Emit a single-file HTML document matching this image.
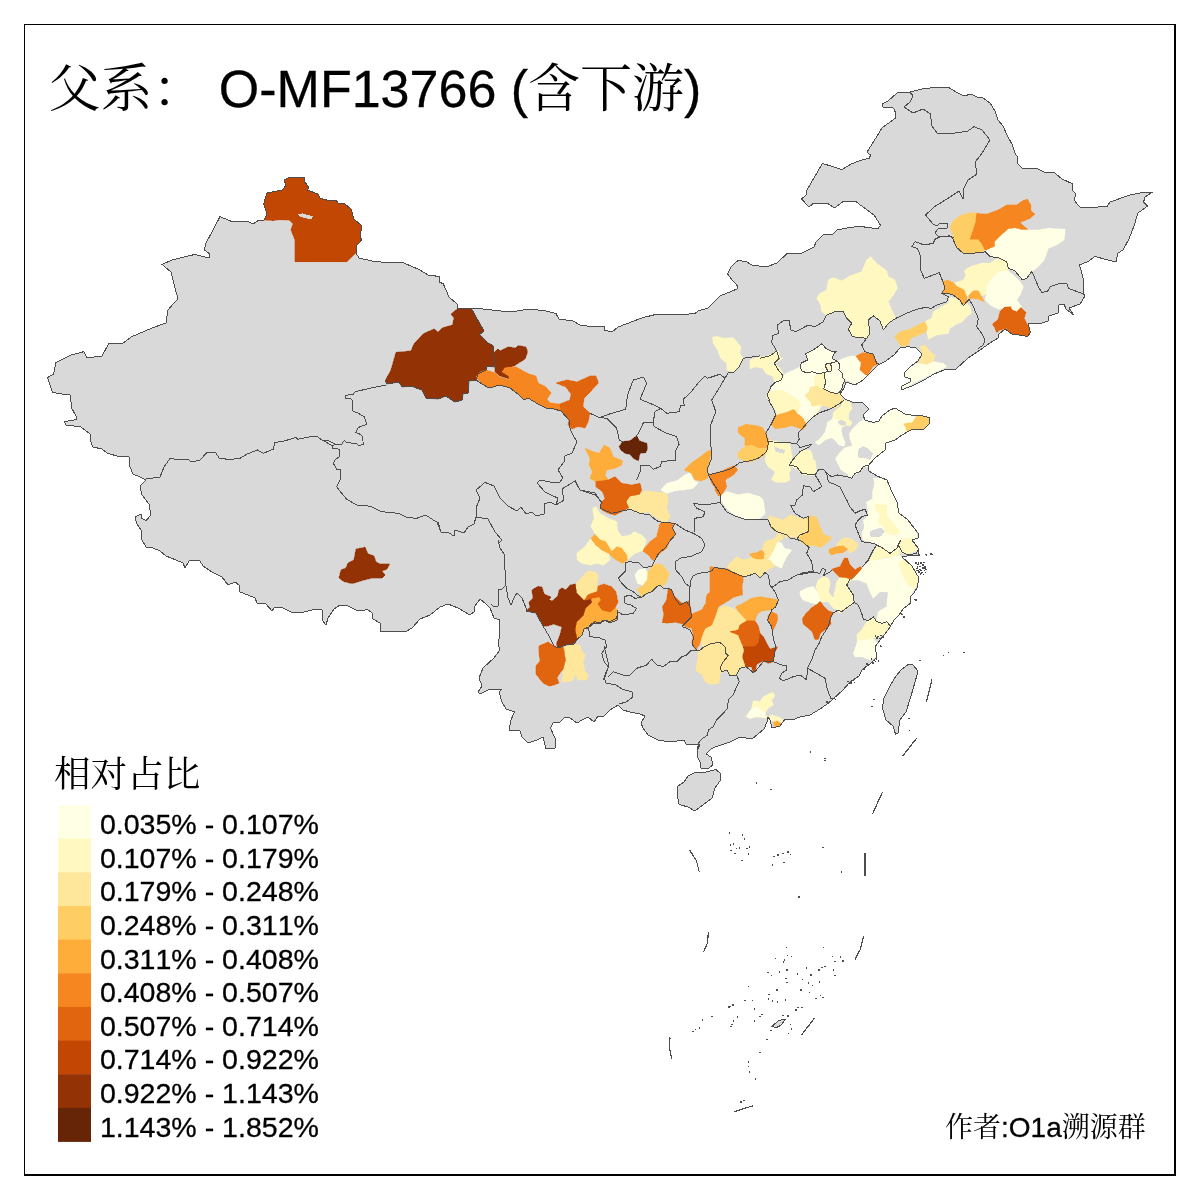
<!DOCTYPE html>
<html lang="zh-CN"><head><meta charset="utf-8"><title>父系 O-MF13766</title>
<style>
html,body{margin:0;padding:0;background:#fff}
body{width:1200px;height:1200px;position:relative;overflow:hidden}
svg{position:absolute;left:0;top:0;display:block}
text{font-family:"Liberation Sans","Noto Serif CJK SC",serif;fill:#000;white-space:pre;font-kerning:none;font-variant-ligatures:none}
.la{stroke:#000;stroke-width:0.3px}
.title{font-size:52px}
.lgt{font-size:36.6px}
.lt{font-size:28.55px}
.credit{font-size:28px}
</style></head><body>
<svg width="1200" height="1200" viewBox="0 0 1200 1200">
<path shape-rendering="crispEdges" d="M24,24H1176V1176H24ZM25,25V1174H1174V25Z" fill="#000" fill-rule="evenodd"/>
<g shape-rendering="crispEdges">
<path d="M152,328 166,323 168,310 173,304 178,299 174,284 171,272 162,264.4 172,260 195,254.4 209,258 210,254 204.4,250 206,243 213,230 220,216.6 233,222 247,221 253,224 258,220.6 264,220 267,214 263.6,204 267,193 282,190 285.6,186 284.4,180 290,177 304,177 305,182 309,188 307,190 318,194 320,198 330,201 336,200 338,203 345,204 351,209 354,219 362,226 360,236 361.6,240 356,246 356,253 359,258 372,261 384,262.4 404,263 420,270 428,275 440,276.6 439.4,282 443.4,284 449,297 457,304 458,308.4 471,308 478,308.4 510,312 530,309 546,311 556,313.6 559,319 573,321 580,325 590,326.4 604,326.4 605,330.4 612,332 618,327 643,317.6 656,314.4 676,315 695,313.6 698,311 708,308 720,296 737,289 737.6,286 732,280 727.6,274 731,267 738,260.4 746,261.6 752,265 766,267 777,263 787,253.6 800,254 814,247 816,242 823,235 833,234 837,230 849,227.6 860,226.4 869,227.6 878,229 880.4,225 874,215 863,207 855,201 844,201 834.4,208 827,203 813,203.6 809,207 801.6,199 806,195 807,190 822.4,163.4 842,169.6 851,164 860,160.6 869.6,158 870.4,155 867,152 874,141 882,128 895.4,118 896,113.6 893.4,108 883,107 882.4,103.6 888,101 897,93 910,92 924,88.6 940,87 948,87 956,92 963,95.6 972,94.4 977,97 983,98 990,103 995,111 998,120 1003,126 1007,135 1012.4,145 1015,153 1018,158 1017,163 1022,168 1038,169 1046,173 1054,172.4 1062,179 1073,184 1072,190 1076,194 1074,200 1079.6,207 1090,207.6 1107,206.4 1110,202 1130,195 1143,192.4 1152.4,192 1145,197 1143.6,202 1147.6,206 1138,213 1134,226 1129,239 1123,250 1118,253 1116,262 1104,259 1095,256.4 1089,261 1079.6,265 1083,278 1084,289 1083,294 1085,296 1080,304 1069,308 1073.6,315 1066,309 1064,304 1059,305 1058,313 1049,316 1048,321 1042,323 1028,323.6 1030.4,332 1028,336.4 1012,334 1005,329 999,334 998,338 990,343 980,350 968,358 956,369 944,370 934,374 924,380 912,386 902,389.6 901.6,386.4 910,382 911,379 905,377 904,373 910,367 918,361 922,354 916,348 908,346.6 900,348 894,355 886,361 878,365 868,375 863,380 855,385 846,382 844,388 840,394 845,399 852,402 863,403 869,409 863,415 865,420 873,422.4 879,421 882,416 890,410 895,408 905,414 914,415.6 920,415 930,418 929,424 924,429 911,430 902,435 895,440 886,443 885,450 875,458 868,466 869,471 877,476 887,480 892,492 897,502 899,513 908,520 914,528 918,533 918,538 912,540 918,548 918,553 920,556 912,555 902,557 912,566 916,573 919,578 917,588 914,593 910,597 911,603 903,609 899,615 894,620 890,627 885,634 880,640 875,647 877,657 870,664 862,670 859,676 850,682 843,690 833,699 830,702 820,709 810,715 800,717 792,720 785,719 780,726 772,728 770,720 768,717 767,722 764,729 758,734 752,739 744,737.6 738,738 730,742 724,744 715,747 711,749 706,754 711,757 713,765 709,768 701,768 700,762 697,756 698,749 700,744 686,744 684,740 670,742 658,740 648,735 643,728 641,723 645,716 640,714 630,712 623,710 618,705 610,710 604,716 598,716 594,722 588,717 582,720 577,723 570,718 565,717 560,722 553,723 550.4,728 555,738 555,748 546,749 543,737 537,740 528,743 522,737 520,731 509,730 511,720 514.4,712 506,709 502,702 499,692 502,689 488,690 480,694 478,692 482,686 479,678 483,668 494,658 500,650 498,644 499.6,636 499.4,620 494,618 490,608 486,604 480,599 475,606 474,612 470,615 458,608 448,604 440,607 430,615 420,619 412,628 406,631.6 392,631.6 381,632 380,623 373,619 372,613 367,609 363,611 356,610 348,606 340,605 334,609 328,618 326,625 322,620 322,610 316,609 304,612 292,612.4 282,607.6 275,607 272,611 266,604 257,603 255,598 248,595 240,592 239,585 235,582 228,585 222,577 212,572 203,566 200,561 193,560 189,561 185,568 183,563 176,560 166,556 160,551 153,548 146,547 141,538 141,530 137,524 135,517 141,514 141,518 146,520.6 151,515 149,504 142,495 140,486 146,480 140,477 133,474 129.6,466 129,457 118,456.4 107,453 102,449 93,447 90,440 90,434 81,427 66,425 64.6,421.6 76,419.6 76,416 71.6,408 70.4,395 58,393.6 52.4,392 47.6,377.6 53.6,374 56,362.4 71,355 84,351.6 87,358 102,356 109,343 122,344 131,337ZM909,664 913,665 918,671 915.6,680 911,696 906,712 900,720 898,733 895.6,734.4 893,726 886,720 882.4,708 884,698 890,686 896,676 902,669ZM688,776 696,772 706,772 716,769.6 721,774 720.6,780 715,788 712,798 703,805 695,811 688,807 679,804.4 677,794 678,786 684,782ZM772.001,1026.4 778.601,1020.4 785.501,1019.2 781.001,1025.2 776.501,1027.6Z" fill="#D9D9D9" stroke="none"/>
<clipPath id="landclip"><path d="M152,328 166,323 168,310 173,304 178,299 174,284 171,272 162,264.4 172,260 195,254.4 209,258 210,254 204.4,250 206,243 213,230 220,216.6 233,222 247,221 253,224 258,220.6 264,220 267,214 263.6,204 267,193 282,190 285.6,186 284.4,180 290,177 304,177 305,182 309,188 307,190 318,194 320,198 330,201 336,200 338,203 345,204 351,209 354,219 362,226 360,236 361.6,240 356,246 356,253 359,258 372,261 384,262.4 404,263 420,270 428,275 440,276.6 439.4,282 443.4,284 449,297 457,304 458,308.4 471,308 478,308.4 510,312 530,309 546,311 556,313.6 559,319 573,321 580,325 590,326.4 604,326.4 605,330.4 612,332 618,327 643,317.6 656,314.4 676,315 695,313.6 698,311 708,308 720,296 737,289 737.6,286 732,280 727.6,274 731,267 738,260.4 746,261.6 752,265 766,267 777,263 787,253.6 800,254 814,247 816,242 823,235 833,234 837,230 849,227.6 860,226.4 869,227.6 878,229 880.4,225 874,215 863,207 855,201 844,201 834.4,208 827,203 813,203.6 809,207 801.6,199 806,195 807,190 822.4,163.4 842,169.6 851,164 860,160.6 869.6,158 870.4,155 867,152 874,141 882,128 895.4,118 896,113.6 893.4,108 883,107 882.4,103.6 888,101 897,93 910,92 924,88.6 940,87 948,87 956,92 963,95.6 972,94.4 977,97 983,98 990,103 995,111 998,120 1003,126 1007,135 1012.4,145 1015,153 1018,158 1017,163 1022,168 1038,169 1046,173 1054,172.4 1062,179 1073,184 1072,190 1076,194 1074,200 1079.6,207 1090,207.6 1107,206.4 1110,202 1130,195 1143,192.4 1152.4,192 1145,197 1143.6,202 1147.6,206 1138,213 1134,226 1129,239 1123,250 1118,253 1116,262 1104,259 1095,256.4 1089,261 1079.6,265 1083,278 1084,289 1083,294 1085,296 1080,304 1069,308 1073.6,315 1066,309 1064,304 1059,305 1058,313 1049,316 1048,321 1042,323 1028,323.6 1030.4,332 1028,336.4 1012,334 1005,329 999,334 998,338 990,343 980,350 968,358 956,369 944,370 934,374 924,380 912,386 902,389.6 901.6,386.4 910,382 911,379 905,377 904,373 910,367 918,361 922,354 916,348 908,346.6 900,348 894,355 886,361 878,365 868,375 863,380 855,385 846,382 844,388 840,394 845,399 852,402 863,403 869,409 863,415 865,420 873,422.4 879,421 882,416 890,410 895,408 905,414 914,415.6 920,415 930,418 929,424 924,429 911,430 902,435 895,440 886,443 885,450 875,458 868,466 869,471 877,476 887,480 892,492 897,502 899,513 908,520 914,528 918,533 918,538 912,540 918,548 918,553 920,556 912,555 902,557 912,566 916,573 919,578 917,588 914,593 910,597 911,603 903,609 899,615 894,620 890,627 885,634 880,640 875,647 877,657 870,664 862,670 859,676 850,682 843,690 833,699 830,702 820,709 810,715 800,717 792,720 785,719 780,726 772,728 770,720 768,717 767,722 764,729 758,734 752,739 744,737.6 738,738 730,742 724,744 715,747 711,749 706,754 711,757 713,765 709,768 701,768 700,762 697,756 698,749 700,744 686,744 684,740 670,742 658,740 648,735 643,728 641,723 645,716 640,714 630,712 623,710 618,705 610,710 604,716 598,716 594,722 588,717 582,720 577,723 570,718 565,717 560,722 553,723 550.4,728 555,738 555,748 546,749 543,737 537,740 528,743 522,737 520,731 509,730 511,720 514.4,712 506,709 502,702 499,692 502,689 488,690 480,694 478,692 482,686 479,678 483,668 494,658 500,650 498,644 499.6,636 499.4,620 494,618 490,608 486,604 480,599 475,606 474,612 470,615 458,608 448,604 440,607 430,615 420,619 412,628 406,631.6 392,631.6 381,632 380,623 373,619 372,613 367,609 363,611 356,610 348,606 340,605 334,609 328,618 326,625 322,620 322,610 316,609 304,612 292,612.4 282,607.6 275,607 272,611 266,604 257,603 255,598 248,595 240,592 239,585 235,582 228,585 222,577 212,572 203,566 200,561 193,560 189,561 185,568 183,563 176,560 166,556 160,551 153,548 146,547 141,538 141,530 137,524 135,517 141,514 141,518 146,520.6 151,515 149,504 142,495 140,486 146,480 140,477 133,474 129.6,466 129,457 118,456.4 107,453 102,449 93,447 90,440 90,434 81,427 66,425 64.6,421.6 76,419.6 76,416 71.6,408 70.4,395 58,393.6 52.4,392 47.6,377.6 53.6,374 56,362.4 71,355 84,351.6 87,358 102,356 109,343 122,344 131,337ZM909,664 913,665 918,671 915.6,680 911,696 906,712 900,720 898,733 895.6,734.4 893,726 886,720 882.4,708 884,698 890,686 896,676 902,669ZM688,776 696,772 706,772 716,769.6 721,774 720.6,780 715,788 712,798 703,805 695,811 688,807 679,804.4 677,794 678,786 684,782ZM772.001,1026.4 778.601,1020.4 785.501,1019.2 781.001,1025.2 776.501,1027.6Z"/></clipPath>
<g clip-path="url(#landclip)">
<path d="M264,220 267,214 263.6,204 267,193 282,190 285.6,186 284.4,180 290,177 304,177 305,182 309,188 307,190 318,194 320,198 330,201 336,200 338,203 345,204 351,209 354,219 362,226 360,236 361.6,240 356,246 356,253 347,261.6 295,261.6 295,240 291,230 293,224 289,220 279,219.6 273,220.6Z" fill="#C14702" stroke="#C14702" stroke-width="0.6" stroke-linejoin="round"/>
<path d="M458,308.4 471,308 484,331 479.6,334.4 488,343 493,345.6 493.6,353 498,349 500,351 508,347 516,348 518,345.6 526,347 527.6,352 525,359 514,366 505,368 502,372 509,376 509.6,379 500,376 495,372 495,367 487,366 486,370 478,374 476,380 469,381 468,393 463,394 462,400 455,402 446,396 438,399 426,398 422,390 411,386 402,387 399,382 386.4,384 385.6,380 391,370 396,352.4 411,351 414,344 423,334 434,329 438,332 442,328 452.6,325 454,318 451,314Z" fill="#933204" stroke="#933204" stroke-width="0.6" stroke-linejoin="round"/>
<path d="M339,578 341,570 346,568 348,563 354,560 356,549 362,548 365,547 368,554 374,556 376,562 380,564 389.6,564 387,569 382,571 385,575 382,578 372,578 364,580 352,583.6 344,581.6Z" fill="#933204" stroke="#933204" stroke-width="0.6" stroke-linejoin="round"/>
<path d="M476,377 480,372 486,370 495,373 500,377 509,380 509,376 502,372 505,367.6 516,367 529,374 536,376 538,383 546,387 551,393 547,399 550,403 560,404 561,411 554,409 546,408 538,404 528,398 524,400 518,394 510,388 500,385 489,388 482,384Z" fill="#F68720" stroke="#F68720" stroke-width="0.6" stroke-linejoin="round"/>
<path d="M556,383 567,380 577,382 590,376 596,376 598.4,383 592,390 584,398 583,407 590,413 588,422 585,428 578,426.4 572,429 568,425 569,420 561,411 560,404 570,400 571,394 566,387Z" fill="#E1640E" stroke="#E1640E" stroke-width="0.6" stroke-linejoin="round"/>
<path d="M526,611 530,607 529,602 533,598 532,590 538,586.4 542,587 544,594 551,597 549,600 552,601 558,596 559,590 562,588 566,590 570,585 576,584 577,593 584,600 591,599 592,603 586,608 584,615 577,622 575.6,630 577.6,639 574,644 566,645 558,648 556.4,644 560,635 562,627 554,624 547,626 543,626 536,613Z" fill="#933204" stroke="#933204" stroke-width="0.6" stroke-linejoin="round"/>
<path d="M539,646 548,642 554,646 558,648 564,647 566,660 564,668 560,673 557,678 559,683 554,685 549,686 543,683 536,674 536,666 540,661 539,652Z" fill="#E1640E" stroke="#E1640E" stroke-width="0.6" stroke-linejoin="round"/>
<path d="M564,647 574,644 580,645 582,652 585,655 583,662 585,672 588,674 587,680 578,680 576,674 572,681 562,682 563,673 564,668 566,660Z" fill="#FEE79B" stroke="#FEE79B" stroke-width="0.6" stroke-linejoin="round"/>
<path d="M592,598 600,597 601,600 598,604 602,610 610,612 615,608 617.6,610 617,620 610,623 604,620 598,624 592,623 588,628 584,629 582,635 577.6,639 575.6,630 577,622 584,615 586,608 592,603Z" fill="#FEAC3A" stroke="#FEAC3A" stroke-width="0.6" stroke-linejoin="round"/>
<path d="M588,594 597,591 598,586 604,584 612,587 616,592 618,602 615,608 610,612 602,610 598,604 601,600 600,597 592,598 591,599 584,600Z" fill="#E1640E" stroke="#E1640E" stroke-width="0.6" stroke-linejoin="round"/>
<path d="M576,584 582,577 588,571 595,572 598,575 597,586 597,591 588,594 584,600 577,593Z" fill="#FEE79B" stroke="#FEE79B" stroke-width="0.6" stroke-linejoin="round"/>
<path d="M619.2,446.7 622.5,441.7 630,440.8 636.7,435.8 639.2,440.8 646.7,443.3 647.5,448.3 645.8,452.5 640,453.3 638.3,460.8 633.3,458.3 630,454.2 625,453.3 620.8,450Z" fill="#662506" stroke="#662506" stroke-width="0.6" stroke-linejoin="round"/>
<path d="M712.5,337.5 716.7,336.3 723.3,338.3 733.3,337.5 740.8,346.7 740,353.3 743.3,358.3 739.2,366.7 733.3,372.5 726.7,370 726.7,363.3 720.8,358.3 717.5,350 713.3,343.3Z" fill="#FFF8C1" stroke="#FFF8C1" stroke-width="0.6" stroke-linejoin="round"/>
<path d="M800,366.9 801.2,363.1 807.5,360 805.6,353.8 815,348.8 821.9,343.8 826.2,348.8 832.5,351.9 836.2,351.2 833.1,355 832.5,358.8 837.5,361.2 842.5,358.8 850,356.2 856.2,356.2 858.8,360 861.2,362.5 860,370 865,374.4 867.5,375 866.2,377.5 860,381.2 856.2,385 852.5,383.1 847.5,380 845,380 843.1,383.8 842.5,387.5 839.4,392.5 836.2,393.8 830,391.9 823.8,388.8 821.2,390 818.1,386.2 815,386.2 810,387.5 808.8,392.5 805,395 807.5,398.8 811.2,402.5 811.2,406.2 819.4,405 818.1,410 816.2,413.8 813.8,416.9 808.8,420 805.6,423.1 802.5,417.5 797.5,413.8 800,406.2 798.8,400 790,395 782.5,390 771.2,391.2 771.2,386.2 775,382.5 781.2,380 785,373.8 792.5,370.6Z" fill="#FFFFE5" stroke="#FFFFE5" stroke-width="0.6" stroke-linejoin="round"/>
<path d="M825,364.4 830.6,363.1 831.9,370.6 828.1,371.9Z" fill="#FFF8C1" stroke="#FFF8C1" stroke-width="0.6" stroke-linejoin="round"/>
<path d="M856.2,356.2 863.1,352.5 873.1,354.4 875,360.6 878.1,363.8 873.1,366.2 867.5,375 865,374.4 860,370 861.2,362.5 858.8,360Z" fill="#F68720" stroke="#F68720" stroke-width="0.6" stroke-linejoin="round"/>
<path d="M750,360 757.5,356.9 766.2,356.2 775,352.5 778.8,350.6 780,357.5 783.1,358.1 779.4,360.6 775,363.8 780,368.1 783.1,373.1 781.2,380 775,382.5 772.5,376.2 766.2,373.8 762.5,368.1 755,366.9 750,368.8Z" fill="#FFF8C1" stroke="#FFF8C1" stroke-width="0.6" stroke-linejoin="round"/>
<path d="M771.2,391.2 782.5,390 790,395 798.8,400 800,406.2 797.5,413.8 793.8,409.4 786.2,412.5 775,415.6 776.9,412.5 773.8,407.5 770,401.2 766.2,396.2 768.8,392.5Z" fill="#FFF8C1" stroke="#FFF8C1" stroke-width="0.6" stroke-linejoin="round"/>
<path d="M813.8,377.5 818.1,373.8 825,372.5 824.4,376.2 825.6,382.5 823.8,388.8 821.2,390 818.1,386.2 815,386.2 813.8,382.5Z" fill="#FFF8C1" stroke="#FFF8C1" stroke-width="0.6" stroke-linejoin="round"/>
<path d="M805,395 808.8,392.5 810,387.5 815,386.2 818.1,386.2 821.2,390 823.8,388.8 830,391.9 836.2,393.8 839.4,392.5 843.1,400 840,403.8 836.2,408.1 830,407.5 820,405 811.2,406.2 811.2,402.5 807.5,398.8Z" fill="#FEE79B" stroke="#FEE79B" stroke-width="0.6" stroke-linejoin="round"/>
<path d="M819.4,405 821.9,405.2 818.1,411.9 815,416.2 813.8,416.9 816.2,413.8 818.1,410Z" fill="#FFF8C1" stroke="#FFF8C1" stroke-width="0.6" stroke-linejoin="round"/>
<path d="M771.2,423.8 775,415.6 786.2,412.5 793.8,409.4 797.5,413.8 802.5,417.5 806.9,425 802.5,430 797.5,427.5 791.2,425.6 785,427.5 775,428.8Z" fill="#FEAC3A" stroke="#FEAC3A" stroke-width="0.6" stroke-linejoin="round"/>
<path d="M745,424.4 756.2,425.6 762.5,427.5 765,432.5 768.8,440 766.2,448.8 760,448.8 755,446.2 745,445.6Z" fill="#FEAC3A" stroke="#FEAC3A" stroke-width="0.6" stroke-linejoin="round"/>
<path d="M745,445.6 755,446.2 760,448.8 766.2,448.8 766.2,453.8 758.8,458.8 750,461.9 745,461.9Z" fill="#FECE65" stroke="#FECE65" stroke-width="0.6" stroke-linejoin="round"/>
<path d="M768.8,440 778.8,441.9 790,443.8 791.2,451.2 792.5,457.5 788.8,465 791.2,470 788.8,472.5 790,480 785,482.5 775,481.9 771.2,478.8 776.9,475 776.2,468.8 768.8,467.5 765,461.2 766.2,453.8 766.2,448.8Z" fill="#FFF8C1" stroke="#FFF8C1" stroke-width="0.6" stroke-linejoin="round"/>
<path d="M789.4,465 792.5,460 800,453.1 805,450.6 810,450 812.5,455 811.9,465 816.2,470 815,475 810,475.6 802.5,474.4 797.5,469.4 791.2,466.2Z" fill="#FFF8C1" stroke="#FFF8C1" stroke-width="0.6" stroke-linejoin="round"/>
<path d="M849.4,433.8 852.5,428.8 858.8,422.5 863.8,419.4 869.4,423.1 876.2,423.1 880,416.9 886.2,411.9 893.8,408.8 898.8,410 906.2,413.8 912.5,416.2 916.2,416.9 920,414.4 923.1,416.9 930.6,417.5 928.1,421.2 928.8,427.5 923.1,430.6 917.5,429.4 912.5,431.2 908.8,433.1 900,436.9 895,443.1 888.8,448.1 886.2,453.1 878.8,458.1 875,464.4 869.4,466.9 862.5,466.2 858.8,472.5 853.8,475 850,478.1 847.5,473.8 841.2,470 838.1,463.8 835.6,458.8 838.8,453.8 844.4,448.1 852.5,445.6 850,438.8Z" fill="#FFFFE5" stroke="#FFFFE5" stroke-width="0.6" stroke-linejoin="round"/>
<path d="M903.8,423.8 912.5,422.5 916.2,416.9 920,413.8 923.1,415.6 931.9,416.9 929.4,421.2 928.8,427.5 923.1,430.6 917.5,429.4 912.5,431.2 907.5,433.1 905.6,427.5Z" fill="#FECE65" stroke="#FECE65" stroke-width="0.6" stroke-linejoin="round"/>
<path d="M815,442.5 820,438.8 825,432.5 827.5,422.5 832.5,418.8 833.8,411.9 841.2,406.2 843.8,400 850,402.5 851.9,408.8 848.8,412.5 848.1,418.8 851.9,422.5 850,425.6 845,425 841.2,428.8 841.9,435 845,442.5 844.4,446.2 838.8,445 835,440 831.2,437.5 825,440 818.8,445Z" fill="#FFFFE5" stroke="#FFFFE5" stroke-width="0.6" stroke-linejoin="round"/>
<path d="M833.8,411.9 841.2,406.2 843.8,400 850,402.5 851.9,408.8 848.8,412.5 848.1,418.8 851.9,422.5 850,425.6 845,425 841.9,427.5 838.8,425 837.5,420 833.8,417.5Z" fill="#FFF8C1" stroke="#FFF8C1" stroke-width="0.6" stroke-linejoin="round"/>
<path d="M800,451.2 807.5,450 811.9,453.8 813.1,460 812.5,466.2 816.2,470 815.6,475 810,475 800,473.1Z" fill="#FFF8C1" stroke="#FFF8C1" stroke-width="0.6" stroke-linejoin="round"/>
<path d="M875,482.5 880,477.5 887.5,480 890,487.5 896.2,500 900,508.8 900,513.8 907.5,520 911.2,526.2 916.2,530 917.5,540 865,540 865,532.5 863.8,521.2 868.1,515 868.8,510 866.2,502.5 872.5,498.8 873.1,490Z" fill="#FFFFE5" stroke="#FFFFE5" stroke-width="0.6" stroke-linejoin="round"/>
<path d="M875,505 880,503.8 886.2,505 886.9,510 885,515 887.5,522.5 890,527.5 887.5,531.2 882.5,528.8 878.8,522.5 878.8,515 876.2,510Z" fill="#FFF8C1" stroke="#FFF8C1" stroke-width="0.6" stroke-linejoin="round"/>
<path d="M950,227.5 953.3,220.8 960,215.8 970,212.5 976.7,213.3 975.8,221.7 973.3,230 971.7,236.7 978.3,239.2 981.7,243.3 985,250 981.7,252.5 971.7,253.3 963.3,253.3 956.7,247.5 953.3,240 952.5,233.3Z" fill="#FECE65" stroke="#FECE65" stroke-width="0.6" stroke-linejoin="round"/>
<path d="M976.7,213.3 986.7,214.2 998.3,210 1006.7,205 1016.7,205 1022.5,200.8 1027.5,199.2 1030.8,205 1030.8,210.8 1035,214.2 1030,218.3 1020,222.5 1028.3,230 1021.7,230 1015,228.3 1008.3,229.2 1001.7,235 995,241.7 995,246.7 990.8,248.3 985,250 981.7,243.3 978.3,239.2 970,239.2 973.3,230 975.8,221.7Z" fill="#F68720" stroke="#F68720" stroke-width="0.6" stroke-linejoin="round"/>
<path d="M985,251.7 990.8,248.3 995,246.7 995,241.7 1001.7,235 1008.3,229.2 1015,228.3 1021.7,230 1028.3,230 1038.3,230 1048.3,228.3 1065,229.2 1064.2,240 1056.7,245 1048.3,248.3 1044.2,260 1038.3,266.7 1031.7,271.7 1026.7,278.3 1022.5,280 1018.3,275 1015,270.8 1008.3,268.3 1006.7,261.7 998.3,257.5 990,256.7Z" fill="#FFFFE5" stroke="#FFFFE5" stroke-width="0.6" stroke-linejoin="round"/>
<path d="M964.2,270.8 970,266.7 981.7,263.3 990,263.3 995.8,259.2 1003.3,259.2 1007.5,263.3 1008.3,270.8 998.3,271.7 990.8,280 986.7,285 986.7,293.3 981.7,296.7 976.7,290 971.7,291.7 966.7,296.7 964.2,290 957.5,286.7 954.2,283.3 963.3,280 965.8,275Z" fill="#FFF8C1" stroke="#FFF8C1" stroke-width="0.6" stroke-linejoin="round"/>
<path d="M986.7,285 990.8,280 998.3,271.7 1008.3,270.8 1015,276.7 1020,281.7 1023.3,286.7 1020,295 1016.7,300 1021.7,306.7 1016.7,311.7 1011.7,308.3 1006.7,306.7 998.3,309.2 990,305 985,300 986.7,293.3Z" fill="#FFFFE5" stroke="#FFFFE5" stroke-width="0.6" stroke-linejoin="round"/>
<path d="M942.5,281.7 947.5,280 954.2,283.3 957.5,286.7 964.2,290 966.7,296.7 966.7,301.7 963.3,305.8 960,300 953.3,295 948.3,293.3 941.7,293.3 945,288.3Z" fill="#FEAC3A" stroke="#FEAC3A" stroke-width="0.6" stroke-linejoin="round"/>
<path d="M969.2,295 973.3,290.8 978.3,290.8 981.7,296.7 984.2,301.7 978.3,299.2 973.3,298.3 969.2,299.2Z" fill="#FEAC3A" stroke="#FEAC3A" stroke-width="0.6" stroke-linejoin="round"/>
<path d="M992.5,324.2 998.3,319.2 1000,311.7 1004.2,307.5 1010.8,306.7 1011.7,310 1016.7,311.7 1020.8,307.5 1025.8,312.5 1024.2,318.3 1026.7,323.3 1030.8,332.5 1028.3,335.8 1016.7,335 1010,333.3 1006.7,328.3 1000,330 996.7,332.5 995,328.3Z" fill="#E1640E" stroke="#E1640E" stroke-width="0.6" stroke-linejoin="round"/>
<path d="M950,296.7 958.3,300 961.7,305.8 966.7,303.3 970,306.7 971.7,313.3 966.7,316.7 962.5,321.7 955,325 950,328.3 948.3,333.3 936.7,335 928.3,339.2 926.7,330 925,321.7 931.7,318.3 933.3,311.7 941.7,306.7 948.3,303.3Z" fill="#FFF8C1" stroke="#FFF8C1" stroke-width="0.6" stroke-linejoin="round"/>
<path d="M895,336.7 900,331.7 910,329.2 918.3,325 925,321.7 927.5,328 925,332.5 916.7,335.8 910.8,338 908,345 901.7,346.7 898,341.7Z" fill="#FECE65" stroke="#FECE65" stroke-width="0.6" stroke-linejoin="round"/>
<path d="M920,346.7 925,345 930,351.7 935,355 933.3,361.7 926.7,365 918.3,363.3 921.7,356.7 922.5,353.3Z" fill="#FEE79B" stroke="#FEE79B" stroke-width="0.6" stroke-linejoin="round"/>
<path d="M918.3,363.3 926.7,365 933.3,361.7 943.3,363.3 946.7,366.7 936.7,371.7 925,377.5 913.3,383.3 903.3,390 901.7,386.7 910,382.5 910.8,379.2 905.8,378.3 904.2,373.3 910,366.7Z" fill="#FFFFE5" stroke="#FFFFE5" stroke-width="0.6" stroke-linejoin="round"/>
<path d="M816.7,298.3 820,293.3 826.7,290 828.3,280 833.3,277.5 841.7,280.8 850,275.8 861.7,271.7 866.7,260 870.8,256.7 876.7,263.3 886.7,270.8 888.3,276.7 895,280 897.5,288.3 893.3,295 888.3,301.7 891.7,310 895.8,318.3 888.3,323.3 883.3,330 880,320.8 873.3,315.8 868.3,320 870,333.3 866.7,338.3 852.5,336.7 848.3,329.2 851.7,323.3 846.7,318.3 843.3,311.7 835,311.7 826.7,315 821.7,311.7 820.8,305Z" fill="#FFF8C1" stroke="#FFF8C1" stroke-width="0.6" stroke-linejoin="round"/>
<path d="M585,448.3 593.3,451.7 599.2,453.3 604.2,445 610,448.3 613.3,456.7 622.5,460.8 621.7,465 615,468.3 606.7,470 605,475 608.3,480 595.8,481.7 590,478.3 592.5,471.7 589.2,465 590,458.3Z" fill="#FEAC3A" stroke="#FEAC3A" stroke-width="0.6" stroke-linejoin="round"/>
<path d="M595.8,481.7 608.3,480 615,476.7 621.7,483.3 631.7,485 640,483.3 641.7,490 639.2,495 630,496.7 626.7,501.7 629.2,507.5 621.7,511.7 615,515 608.3,513.3 601.7,510 600.8,503.3 605,498.3 602.5,491.7 595.8,486.7Z" fill="#E1640E" stroke="#E1640E" stroke-width="0.6" stroke-linejoin="round"/>
<path d="M626.7,501.7 630,496.7 639.2,495 645,490.8 653.3,491.7 666.7,493.3 668.3,500 666.7,508.3 670,516.7 666.7,522.5 660,520 651.7,515 648.3,511.7 640,513.3 633.3,511.7 629.2,507.5Z" fill="#FEE79B" stroke="#FEE79B" stroke-width="0.6" stroke-linejoin="round"/>
<path d="M660.8,490 666.7,483.3 676.7,480.8 685,475 690,472.5 693.3,480 698.3,482.5 693.3,488.3 683.3,490 675,490.8 666.7,493.3Z" fill="#FFFFE5" stroke="#FFFFE5" stroke-width="0.6" stroke-linejoin="round"/>
<path d="M684.2,470 691.7,462.5 698.3,458.3 706.7,451.7 711.7,450 710,458.3 707.5,468.3 707.5,478.3 701.7,480.8 695,480 691.7,473.3Z" fill="#FEAC3A" stroke="#FEAC3A" stroke-width="0.6" stroke-linejoin="round"/>
<path d="M708.3,475 720,471.7 733.3,465.8 737.5,470 733.3,475 725,480 726.7,486.7 721.7,495 716.7,490 711.7,483.3Z" fill="#F68720" stroke="#F68720" stroke-width="0.6" stroke-linejoin="round"/>
<path d="M721.7,495 726.7,491.7 738.3,495 748.3,493.3 760,496.7 763.3,500 765,513.3 760,518.3 751.7,520 743.3,518.3 735,515 728.3,510 723.3,503.3Z" fill="#FFFFE5" stroke="#FFFFE5" stroke-width="0.6" stroke-linejoin="round"/>
<path d="M738.3,427.5 746.7,424.2 755,427.5 763.3,429.2 765.8,433.3 768.3,443.3 767.5,448.3 758.3,448.3 751.7,445 746.7,439.2 741.7,435.8 738.3,432.5Z" fill="#FEAC3A" stroke="#FEAC3A" stroke-width="0.6" stroke-linejoin="round"/>
<path d="M737.5,453.3 743.3,447.5 751.7,445 758.3,448.3 767.5,448.3 766.7,451.7 758.3,458.3 750,460.8 742.5,460 738.3,457.5Z" fill="#FECE65" stroke="#FECE65" stroke-width="0.6" stroke-linejoin="round"/>
<path d="M642.5,550.8 650,541.7 656.7,536.7 660,523.3 666.7,522.5 673.3,523.3 672.5,530 675.8,533.3 670,540 666.7,548.3 660,553.3 653.3,560.8 648.3,555Z" fill="#F68720" stroke="#F68720" stroke-width="0.6" stroke-linejoin="round"/>
<path d="M592.5,508.3 595.8,506.7 600,513.3 608.3,518.3 616.7,521.7 617.5,530 621.7,536.7 630,535 634.2,531.7 641.7,535 646.7,540 642.5,550.8 635,553.3 628.3,559.2 622.5,563.3 616.7,556.7 610,551.7 603.3,543.3 598.3,540 595,533.3 590.8,526.7 594.2,518.3Z" fill="#FFF8C1" stroke="#FFF8C1" stroke-width="0.6" stroke-linejoin="round"/>
<path d="M576.7,553.3 585,546.7 590.8,538.3 595.8,545 601.7,550 608.3,553.3 610,560 603.3,565 596.7,563.3 590,565 581.7,563.3 577.5,560Z" fill="#FFF8C1" stroke="#FFF8C1" stroke-width="0.6" stroke-linejoin="round"/>
<path d="M590.8,538.3 595,534.2 600,540 605.8,541.7 611.7,551.7 616.7,546.7 621.7,548.3 626.7,555 627.5,560 622.5,563.3 615,559.2 608.3,553.3 601.7,550 595.8,545Z" fill="#FEAC3A" stroke="#FEAC3A" stroke-width="0.6" stroke-linejoin="round"/>
<path d="M720,473.3 726.7,469.2 735,465.8 737.5,470 733.3,474.2 725,478.3 725.8,486.7 721.7,495 718.3,495.8 715,490 718.3,476.7Z" fill="#F68720" stroke="#F68720" stroke-width="0.6" stroke-linejoin="round"/>
<path d="M721.7,495 726.7,491.7 738.3,495 748.3,493.3 760,497.5 762.5,503.3 759.2,508.3 760,515 755.8,519.2 748.3,518.3 738.3,516.7 730,511.7 724.2,505 720.8,500Z" fill="#FFFFE5" stroke="#FFFFE5" stroke-width="0.6" stroke-linejoin="round"/>
<path d="M765.8,460 768.3,466.7 775,471.7 772.5,478.3 777.5,482.5 786.7,480.8 789.2,472.5 786.7,466.7 791.7,460Z" fill="#FFF8C1" stroke="#FFF8C1" stroke-width="0.6" stroke-linejoin="round"/>
<path d="M791.7,460 789.2,465.8 796.7,468.3 803.3,474.2 813.3,475 816.7,470 815,460Z" fill="#FFF8C1" stroke="#FFF8C1" stroke-width="0.6" stroke-linejoin="round"/>
<path d="M836.7,460 841.7,466.7 846.7,472.5 851.7,470 856.7,468.3 863.3,463.3 866.7,460Z" fill="#FFFFE5" stroke="#FFFFE5" stroke-width="0.6" stroke-linejoin="round"/>
<path d="M769.2,515.8 775,517.5 783.3,520 790,515 798.3,517.5 803.3,519.2 807.5,518.3 808.3,531.7 802.5,534.2 798.3,538.3 793.3,536.7 785.8,537.5 781.7,532.5 773.3,530.8 770,525.8Z" fill="#FEE79B" stroke="#FEE79B" stroke-width="0.6" stroke-linejoin="round"/>
<path d="M807.5,518.3 810,515.8 816.7,517.5 820,526.7 824.2,535 831.7,537.5 826.7,543.3 820,547.5 813.3,545 808.3,546.7 801.7,542.5 799.2,538.3 802.5,534.2 808.3,531.7Z" fill="#FECE65" stroke="#FECE65" stroke-width="0.6" stroke-linejoin="round"/>
<path d="M836.7,545 840,540 846.7,537.5 853.3,540 858.3,544.2 855.8,550 850,553.3 847.5,548.3 843.3,545.8 840,550Z" fill="#FEE79B" stroke="#FEE79B" stroke-width="0.6" stroke-linejoin="round"/>
<path d="M829.2,549.2 836.7,546.7 843.3,545.8 847.5,549.2 843.3,552.5 836.7,553.3 831.7,555 829.2,552.5Z" fill="#FEAC3A" stroke="#FEAC3A" stroke-width="0.6" stroke-linejoin="round"/>
<path d="M831.7,569.2 840,566.7 844.2,558.3 847.5,558.3 850,565 855,570 860,566.7 862.5,568.3 856.7,575 851.7,580 846.7,578.3 840,577.5 835.8,573.3Z" fill="#E1640E" stroke="#E1640E" stroke-width="0.6" stroke-linejoin="round"/>
<path d="M873.3,478.3 880,478.3 888.3,481.7 893.3,493.3 900,508.3 908.3,521.7 915,526.7 917.5,533.3 911.7,538.3 916.7,543.3 918.3,550 910,553.3 901.7,553.3 896.7,546.7 891.7,553.3 885,550 876.7,545 870,541.7 863.3,540 861.7,533.3 865,526.7 863.3,520 870,515 866.7,506.7 873.3,500 872.5,491.7 875.8,485Z" fill="#FFFFE5" stroke="#FFFFE5" stroke-width="0.6" stroke-linejoin="round"/>
<path d="M875,504.2 886.7,505 886.7,515 893.3,523.3 900,531.7 895,535 886.7,533.3 883.3,526.7 878.3,523.3 880,515 875.8,510Z" fill="#FFF8C1" stroke="#FFF8C1" stroke-width="0.6" stroke-linejoin="round"/>
<path d="M901.7,540 906.7,538.3 911.7,538.3 916.7,543.3 918.3,550 910,553.3 901.7,553.3 898.3,546.7Z" fill="#FFF8C1" stroke="#FFF8C1" stroke-width="0.6" stroke-linejoin="round"/>
<path d="M868.3,560 873.3,553.3 876.7,545 885,550 891.7,553.3 896.7,546.7 900,553.3 893.3,556.7 885,557.5 878.3,560 873.3,561.7Z" fill="#FFF8C1" stroke="#FFF8C1" stroke-width="0.6" stroke-linejoin="round"/>
<path d="M851.7,580 856.7,575 862.5,568.3 868.3,561.7 878.3,560 893.3,556.7 900,555 903.3,560 913.3,566.7 918.3,573.3 918.3,580 915,588.3 911.7,593.3 912.5,598.3 906.7,605 901.7,610 898.3,616.7 893.3,623.3 888.3,626.7 880,625 876.7,620 878.3,611.7 886.7,606.7 887.5,598.3 888.3,591.7 880,591.7 873.3,598.3 870,591.7 866.7,583.3 858.3,580Z" fill="#FFFFE5" stroke="#FFFFE5" stroke-width="0.6" stroke-linejoin="round"/>
<path d="M898.3,563.3 903.3,560 913.3,566.7 918.3,573.3 918.3,580 915,588.3 908.3,585 903.3,576.7 900.8,568.3Z" fill="#FFF8C1" stroke="#FFF8C1" stroke-width="0.6" stroke-linejoin="round"/>
<path d="M800,591.7 806.7,588.3 813.3,586.7 818.3,593.3 820,600 816.7,603.3 810,601.7 803.3,600 800.8,596.7Z" fill="#FFFFE5" stroke="#FFFFE5" stroke-width="0.6" stroke-linejoin="round"/>
<path d="M818.3,580 823.3,576.7 828.3,578.3 830,583.3 828.3,591.7 826.7,598.3 820,600 818.3,593.3 815.8,586.7Z" fill="#FFF8C1" stroke="#FFF8C1" stroke-width="0.6" stroke-linejoin="round"/>
<path d="M836.7,581.7 840,577.5 846.7,578.3 851.7,580 846.7,585 848.3,588.3 852.5,593.3 854.2,600 851.7,605 845,610 840,613.3 836.7,610 835,603.3 833.3,598.3 835,590Z" fill="#FFF8C1" stroke="#FFF8C1" stroke-width="0.6" stroke-linejoin="round"/>
<path d="M802.5,619.2 806.7,615 810.8,608.3 815.8,605 820,601.7 823.3,605.8 828.3,610.8 833.3,612.5 830,617.5 830.8,624.2 826.7,628.3 820,633.3 818.3,639.2 815,639.2 812.5,631.7 806.7,626.7 803.3,624.2Z" fill="#E1640E" stroke="#E1640E" stroke-width="0.6" stroke-linejoin="round"/>
<path d="M856.7,635 861.7,630 866.7,621.7 873.3,617.5 876.7,621.7 881.7,623.3 886.7,621.7 890,626.7 885,633.3 880,636.7 873.3,638.3 866.7,640 860,641.7 857.5,640.8Z" fill="#FFF8C1" stroke="#FFF8C1" stroke-width="0.6" stroke-linejoin="round"/>
<path d="M730,563.3 736.7,556.7 743.3,560 750,558.3 761.7,550 765,541.7 775,538.3 777.5,533.3 781.7,533.3 783.3,538.3 776.7,543.3 773.3,551.7 770,560 775,565 766.7,568.3 760,575 753.3,573.3 745,576.7 738.3,570 731.7,568.3Z" fill="#FEE79B" stroke="#FEE79B" stroke-width="0.6" stroke-linejoin="round"/>
<path d="M749.2,554.2 756.7,552.5 761.7,550 764.2,553.3 763.3,559.2 757.5,559.2 752.5,557.5Z" fill="#FEAC3A" stroke="#FEAC3A" stroke-width="0.6" stroke-linejoin="round"/>
<path d="M768.3,560 773.3,551.7 777.5,541.7 781.7,543.3 784.2,548.3 791.7,550 786.7,556.7 783.3,563.3 781.7,568.3 775,565Z" fill="#FFFFE5" stroke="#FFFFE5" stroke-width="0.6" stroke-linejoin="round"/>
<path d="M710,566.7 720,568.3 728.3,569.2 738.3,573.3 743.3,580 741.7,586.7 742.5,595 730,596.7 720,600 710,603.3Z" fill="#F68720" stroke="#F68720" stroke-width="0.6" stroke-linejoin="round"/>
<path d="M735.8,606.7 743.3,603.3 751.7,598.3 760,596.7 770,598.3 777.5,600 776.7,605 770,610 761.7,610.8 757.5,614.2 755,620 748.3,622.5 743.3,616.7 739.2,613.3Z" fill="#FEAC3A" stroke="#FEAC3A" stroke-width="0.6" stroke-linejoin="round"/>
<path d="M768.3,615 771.7,611.7 776.7,614.2 777.5,620 775,626.7 772.5,630 770,623.3 767.5,620Z" fill="#F68720" stroke="#F68720" stroke-width="0.6" stroke-linejoin="round"/>
<path d="M726.7,566.7 731.7,561.7 740,560 770,560 775,566.7 770,568.3 765,572.5 760,578.3 755,573.3 748.3,575.8 743.3,576.7 735,573.3Z" fill="#FEE79B" stroke="#FEE79B" stroke-width="0.6" stroke-linejoin="round"/>
<path d="M662.5,606.7 666.7,601.7 668.3,593.3 670,589.2 673.3,595 680,601.7 685.8,605 688.3,600.8 690.8,608.3 691.7,616.7 688.3,620 684.2,625 680.8,623.3 682.5,620 673.3,622.5 662.5,622.5 664.2,615Z" fill="#E1640E" stroke="#E1640E" stroke-width="0.6" stroke-linejoin="round"/>
<path d="M700,636.7 705,628.3 711.7,625 715,616.7 718.3,608.3 726.7,605.8 735.8,610 743.3,616.7 746.7,620.8 740,625 738.3,630 730.8,631.7 738.3,635 741.7,643.3 744.2,650.8 742.5,656.7 745.8,666.7 740,668.3 736.7,675 730,675.8 726.7,670 720,673.3 719.2,683.3 710,684.2 705,681.7 702.5,675 695.8,670.8 697.5,660 698.3,650.8 702.5,646.7Z" fill="#FEE79B" stroke="#FEE79B" stroke-width="0.6" stroke-linejoin="round"/>
<path d="M711.7,570.8 714.2,567.5 726.7,569.2 735,573.3 743.3,576.7 741.7,585 742.5,594.2 733.3,597.5 726.7,601.7 718.3,606.7 715,616.7 711.7,625 705,628.3 701.7,636.7 699.2,645 695.8,650 691.7,643.3 693.3,635 691.7,628.3 685,626.7 684.2,625 688.3,620 693.3,613.3 701.7,610 705.8,603.3 706.7,595 711.7,590.8 718.3,588.3 725,581.7 723.3,575.8 715,574.2Z" fill="#F68720" stroke="#F68720" stroke-width="0.6" stroke-linejoin="round"/>
<path d="M736.7,607.5 743.3,603.3 750,599.2 760,597.5 768.3,599.2 775.8,599.2 777.5,604.2 771.7,609.2 763.3,610 758.3,610.8 755.8,616.7 755,620.8 750,620 746.7,620.8 743.3,616.7Z" fill="#FEAC3A" stroke="#FEAC3A" stroke-width="0.6" stroke-linejoin="round"/>
<path d="M768.3,618.3 771.7,614.2 776.7,614.2 777.5,619.2 775,625 773.3,630 770.8,623.3 767.5,620.8Z" fill="#F68720" stroke="#F68720" stroke-width="0.6" stroke-linejoin="round"/>
<path d="M730,631.7 738.3,630 740,625 746.7,620.8 755,620.8 758.3,625.8 760,633.3 759.2,641.7 755,646.7 743.3,646.7 741.7,643.3 738.3,635Z" fill="#E1640E" stroke="#E1640E" stroke-width="0.6" stroke-linejoin="round"/>
<path d="M743.3,646.7 755,646.7 759.2,641.7 760,633.3 763.3,636.7 766.7,643.3 770,649.2 777.5,646.7 774.2,653.3 773.3,661.7 768.3,663.3 763.3,660.8 756.7,664.2 755,671.7 753.3,672.5 751.7,666.7 745.8,666.7 742.5,656.7 744.2,650.8Z" fill="#C14702" stroke="#C14702" stroke-width="0.6" stroke-linejoin="round"/>
<path d="M802.5,618.3 806.7,612.5 811.7,609.2 816.7,605 820.8,601.7 823.3,606.7 828.3,611.7 833.3,613.3 830,618.3 830.8,624.2 826.7,628.3 820,633.3 818.3,639.2 815,639.2 812.5,631.7 806.7,626.7 804.2,624.2Z" fill="#E1640E" stroke="#E1640E" stroke-width="0.6" stroke-linejoin="round"/>
<path d="M800,591.7 806.7,588.3 813.3,586.7 818.3,593.3 820,600 816.7,604.2 810,602.5 803.3,600 800.8,595.8Z" fill="#FFFFE5" stroke="#FFFFE5" stroke-width="0.6" stroke-linejoin="round"/>
<path d="M818.3,593.3 820,580 823.3,576.7 828.3,578.3 830,583.3 828.3,591.7 833.3,598.3 840,600 840,610 833.3,608.3 828.3,601.7 820.8,601.7 820,600Z" fill="#FFF8C1" stroke="#FFF8C1" stroke-width="0.6" stroke-linejoin="round"/>
<path d="M745.8,716.7 751.7,708.3 753.3,700.8 760,701.7 763.3,696.7 770,693.3 773.3,692.5 775,695.8 771.7,700 773.3,705 768.3,708.3 765,713.3 767.5,718.3 763.3,717.5 756.7,716.7 750,718.3Z" fill="#FFF8C1" stroke="#FFF8C1" stroke-width="0.6" stroke-linejoin="round"/>
<path d="M746.7,716.7 751.7,709.2 756.7,706.7 761.7,710 765,713.3 764.2,717.5 756.7,716.7 750,718.3Z" fill="#FFFFE5" stroke="#FFFFE5" stroke-width="0.6" stroke-linejoin="round"/>
<path d="M770,715 775,715.8 780,717.5 783.3,720 781.7,722.5 776.7,721.7 771.7,720.8 768.3,719.2Z" fill="#FFF8C1" stroke="#FFF8C1" stroke-width="0.6" stroke-linejoin="round"/>
<path d="M773.3,722.5 777.5,720.8 780.8,723.3 779.2,726.7 775,727.5Z" fill="#FEAC3A" stroke="#FEAC3A" stroke-width="0.6" stroke-linejoin="round"/>
<path d="M636.7,589.2 641.7,586.7 646.7,580 646.7,573.3 653.3,565 658.3,563.3 663.3,565.8 669.2,573.3 666.7,581.7 663.3,585.8 656.7,586.7 651.7,591.7 646.7,593.3 642.5,597.5 640,593.3Z" fill="#FECE65" stroke="#FECE65" stroke-width="0.6" stroke-linejoin="round"/>
<path d="M635,575 638.3,570 645,568.3 647.5,572.5 646.7,580 642.5,585 637.5,583.3Z" fill="#FFFFE5" stroke="#FFFFE5" stroke-width="0.6" stroke-linejoin="round"/>
<path d="M662.5,606.7 666.7,600 668.3,588.3 671.7,590 675,598.3 680,605 686.7,601.7 690,606.7 691.7,616.7 686.7,621.7 680,623.3 673.3,621.7 666.7,623.3 662.5,621.7 664.2,613.3Z" fill="#E1640E" stroke="#E1640E" stroke-width="0.6" stroke-linejoin="round"/>
<path d="M853.3,653.3 855.8,646.7 857.5,640.8 866.7,640 873.3,638.3 877.5,643.3 875,648.3 876.7,656.7 870,660 861.7,656.7 855,656.7Z" fill="#FFFFE5" stroke="#FFFFE5" stroke-width="0.6" stroke-linejoin="round"/>
<path d="M298,214.4 303,213.4 313,216.6 311,219.4 301,217Z" fill="#D9D9D9"/>
<path d="M774.4,446.2 780,448.8 785,450 783.8,453.8 778.8,452.5 775,451.2Z" fill="#D9D9D9"/>
<path d="M858.8,448.8 863.8,446.2 870,450 873.1,453.8 870,460 865,457.5 860,458.1 857.5,456.2Z" fill="#D9D9D9"/>
<path d="M838.1,421 842.5,420 846.5,422.8 845.6,425.2 841.9,425.6 838.8,424Z" fill="#D9D9D9"/>
<path d="M870,531.2 877.5,528.8 881.2,527.5 885,531.2 881.2,536.2 875,537.5 870,536.2Z" fill="#D9D9D9"/>
</g>
<path d="M146,479 160,477 164,467 170,458.4 180,460 188,459.6 192,462 200,460 207,452.4 216,453 219,458 228,459.4 240,458.6M240,458.3 246.7,454.2 257.5,450 263.3,453.3 273.3,449.2 275,442.5 285,440.8 295.8,437.5 297.5,439.2 313.3,436.3 317.5,436.7 321.7,440 328.3,440.8 335.8,444.2 341.7,444.2 344.2,440.5 346.7,442.8 356.7,443.3 358.3,445.8 363.3,444.2 362.5,436.7 360,434.2 355.8,432.5 358.3,427.5 366.7,424.2 364.2,416.7 358.3,413.3 352.5,410.8 352,399.2 345.8,398.3 345.3,395.5 353.3,394.2 355,391.7 370,388.3 385.8,385M335.8,444.2 332.5,445.8 332.5,448.3 340,449.2 339.2,456.7 335,460 333.3,463.3 336.7,469.2 340.8,469.2 340,480 336.7,486.7 341.7,493.3 346.7,499.2 356.7,505 365,505 373.3,507.5 381.7,511.7 390,512.5 398.3,513.3 406.7,517.5 416.7,518.3 425.8,515 433.3,520 438.3,522.5 440,528.3M437,522 441,532 449,533 454,536 455,530 464,533 468,527 474,524 476,517M476,517 488,519 495,532 502,540 498,544M476,517 476,508 480,498 476,490 485,482.4 494,486 500,498 508,506 517,511 521,507 526,514 532,512 536,516 544,514 544,504 550,502 556,505 564,500 562,489 575,481 580,490 595,493 601,502M556,505 558,498 553,496 545,492 537,483 540,480 550,482 560,482 563,478 558,470 564,462 565,456 572,453 577,442 572,433 569,426M385.6,380 386.4,384 399,382 402,387 411,386 422,390 426,398 438,399 446,396 455,402 462,400 463,394 468,393 469,381 476,380 482,384 489,388 500,385 510,388 518,394 524,400 528,398 538,404 546,408 554,409 561,411 569,420 569,426M471,308 484,331 479.6,334.4 488,343 493,345.6 493.6,353M493.6,353 495,367 487,366 486,370 478,374 476,380 469,381M590,413.3 599.2,417.5 611.7,413.3 625.8,409.2 627.5,395 633.3,380 643.3,377 646.7,383.3 640,399.2 650,403.3 660.8,408.3 666.7,413.3 679.2,411.7 680.8,405 684.2,405.8 683.3,399.2 690,393.3 700,380.8 705,375.8 707.5,378.3 720,374.2 725,378.3 728.3,372.5 733.3,372.5 739.2,366.7 743.3,358.3 760,355.8M660.8,408.3 655,411.7 653.3,421.7 654.2,426.7 666.7,433.3 676.7,436.7 679.2,444.2 675,451.7 675.8,460 661.7,461.7 660,466.7 653.3,469.2 650,465.8 640.8,465 640,471.7 636.7,480M653.3,422.5 643.3,423 638.3,433.3 636.7,435.8M599.2,417.5 606.7,418.3 616.7,428.3 619.2,440 622.5,441.7M725,378.3 720,386.7 711.7,400M781.7,380 782.5,375 778.3,370 774.2,363.3 779.2,358.3 776.7,350.8 771.7,342.5 772.5,335.8 778.3,333.3 777.5,325 783.3,320.8 789.2,320.8 790.8,330 795.8,331.7 808.3,325 815,326.7 823.3,321.7 826.7,315 835,311.7 843.3,311.7 846.7,318.3 851.7,323.3 848.3,329.2 852.5,336.7 866.7,338.3 870,333.3 868.3,320 873.3,315.8 880,320.8 883.3,330 888.3,323.3 895.8,318.3 906.7,313.3 916.7,309.2 925,307.5 931.7,308.3 936.7,305 946.7,301.7 948.3,296.7 941.7,293.3 945,288.3 942.5,280.8 939.2,272.5 933.3,275 924.2,278.3 920,268.3 920.8,256.7 917.5,248.3 911.7,246.7 915,241.7 924.2,245 933.3,243.3 935,239.2 940,236.7 950,235.8M866.7,338.3 861.7,345 865,351.7 873.3,354.2 876.7,363.3 879.2,364.2M950,236.7 952.5,237.5 953.3,240 956.7,247.5 963.3,253.3 971.7,253.3 981.7,252.5 985,251.7 990,256.7 998.3,257.5 1006.7,261.7 1008.3,268.3 1015,270.8 1018.3,275 1022.5,280 1026.7,278.3 1031.7,271.7 1034.2,276.7 1038.3,286.7 1041.7,292.5 1048.3,290.8 1050,286.7 1060,283.3 1066.7,283.3 1068.3,288.3 1081.7,293.3 1085,294.2M941.7,293.3 948.3,293.3 953.3,295 960,300 963.3,305.8 966.7,301.7 969.2,299.2 973.3,306.7 978.3,318.3 976.7,326.7 981.7,333.3 985,340 983.3,345 978.3,348.3M910,92 913,96 910,102 904,107 913,113 923,109 930.4,114 932,126 937,133 946,134 960,132.4 968,131 974,126.6 982,130 990,140 984,150 980,156 975,162 977,174 968,180 964,188 963,199 959,191 950,197 934,207 925.6,215 933,224 937,226 940,223 947,223 947,228 938,229 935,233 938,236 950,236 954,238M575,480 580,490 595,495 601.7,501.7 600,508.3 611.7,513.3 623.3,510.8 630,509.2 640,513.3 650,515 656.7,520.8 663.3,522.5 675,523.3 672.5,528.3 675.8,534.2 670,540.8 665,548.3 659.2,552.5 655,560 651.7,566.7 643.3,567.5 638.3,562.5 628.3,561.7 625,563.3 625,571.7 618.3,578.3 621.7,583.3 626.7,588.3 633.3,591.7 638.3,595.8 641.7,597.5 646.7,593.3 651.7,591.7 656.7,586.7 660,585 663.3,588.3 668.3,588.3 671.7,590 675,598.3 680,605 686.7,601.7 690,606.7 691.7,616.7 686.7,621.7 681.7,626.7M675,523.3 685,530 693.3,533.3 701.7,538.3 705,545 701.7,551.7 690,556.7 681.7,557.5 675,561.7 675.8,570 681.7,576.7 685,583.3 690,586.7 689.2,596.7 690,606.7M585,628.3 590,626.7 595,621.7 600,623.3 605,620 610,621.7 616.7,618.3 617.5,611.7 623.3,615 633.3,613.3 636.7,608.3 630.8,605 625,603.3 624.2,596.7 630,595 635,598.3 641.7,597.5M588.3,627.5 590,636.7 598.3,637.5 605,640 606.7,646.7 601.7,653.3 604.2,661.7 608.3,666.7 605.8,675 603.3,680M608.3,676.7 613.3,671.7 623.3,675 630,675 636.7,668.3 646.7,665 651.7,659.2 656.7,665 663.3,666.7 670,661.7 676.7,661.7 681.7,656.7 686.7,655 691.7,650 696.7,650M696.7,650 692.5,645 693.3,636.7 690,630 685,627.5 681.7,626.7M498,540 500,548 504,554 505,570 506,586 508,598 511,605 514,598 517,593 522,598 526,608 526,611 536,613 543,626 549,636 554,646 558,648M491,604 494,607 498,606 499,600 498,590 502,589 505,586M558,648 566,645 574,644 577.6,639 582,635 584,629 588,628 592,623 598,624 604,620 610,623 617,620 617.6,610M322,440 333,446M604,646 609,666 604,677 606,683 616,685 622,689 632,692 633,697 626,702 619,704M711.7,400 715.8,411.7 710,426.7 710.8,443.3 711.7,458.3 707.5,468.3 708.3,475 713.3,483.3 720.8,495 720,502.5M768.3,400 773.3,408.3 775.8,415 770.8,425 765.8,433.3 768.3,443.3 766.7,451.7 758.3,458.3 750,460.8 740,462.5 731.7,468.3 721.7,471.7 708.3,475M768.3,441.7 781.7,442.5 796.7,443.3 799.2,439.2 798.3,432.5 803.3,427.5 806.7,423.3 813.3,416.7 820,412.5 830,409.2 840,403.3 844.2,400M796.7,443.3 800,447.5 811.7,444.2 808.3,447.5 800,451.7 793.3,459.2 789.2,465 796.7,466.7 801.7,473.3 815,475 818.3,470 823.3,469.2 826.7,473.3 831.7,476.7 837.5,475 846.7,476.7 851.7,478.3 855,473.3 860,471.7 863.3,466.7 868.3,465M815,475 818.3,480 821.7,486.7 813.3,491.7 810,486.7 803.3,485.8 802.5,495 796.7,500 795,505 790.8,505.8 795,513.3 803.3,518.3 808.3,516.7 808.3,531.7 800,535 796.7,539.2 802.5,541.7 809.2,547.5 806.7,553.3 811.7,561.7 813.3,571.7M826.7,473.3 828.3,481.7 840,486.7 843.3,493.3 846.7,500 850,506.7 855,513.3 860,510.8 865,509.2 867.5,515 861.7,516.7 858.3,520 855,525 858.3,533.3 861.7,541.7 873.3,543.3 880,546.7M720,502.5 726.7,511.7 736.7,516.7 746.7,520 758.3,519.2 768.3,520 770.8,526.7 776.7,531.7 786.7,535 790,538.3 796.7,539.2M720,502.5 705,505 693.3,503.3 696.7,508.3 705,511.7 703.3,516.7 695,518.3 694.2,531.7M770.8,588.3 780,581.7 788.3,580 796.7,575 806.7,573.3 813.3,571.7M800,573.3 810,571.7 820,573.3 822.5,568.3 825.8,570 823.3,575.8 831.7,570.8M861.7,567.5 868.3,560 873.3,550 876.7,545 881.7,547.5 890,553.3 896.7,548.3 898.3,545 900.8,540M898.3,545 901.7,551.7 908.3,555 916.7,553.3 917.5,550M850,579.2 846.7,585 850,590 853.3,595 854.2,602.5 858.3,605 861.7,613.3 863.3,619.2 868.3,620.8 873.3,616.7 876.7,621.7 881.7,623.3 886.7,621.7 890.8,626.7M854.2,602.5 848.3,606.7 841.7,611.7 838.3,610 832.5,613.3 830,620 828.3,626.7 821.7,636.7 819.2,643.3 815,650 811.7,660 807.5,668.3 816.7,673.3 825,678.3 827.5,690 830.8,698.3 835.8,699.2M690,581.7 693.3,575.8 698.3,573.3 706.7,572.5 711.7,570.8 714.2,567.5 726.7,569.2 735,573.3 743.3,576.7 748.3,575.8 755,573.3 760,578.3 765,572.5 768.3,575 770,585 775,591.7 778.3,600 775.8,606.7 771.7,610 767.5,620 771.7,626.7 773.3,638.3 775.8,646.7 773.3,661.7 781.7,665 786.7,665 786.7,670 781.7,673.3 779.2,678.3 783.3,680.8 793.3,676.7 800,675 806.7,680 807.5,668.3M695.8,650 699.2,650.8 704.2,646.7 711.7,643.3 720,642.5 725,646.7 725.8,653.3 728.3,655.8 723.3,661.7 720,668.3 721.7,671.7 726.7,670 730,675.8 736.7,675 740,668.3 745.8,666.7 753.3,672.5 755,671.7 763.3,661.7 773.3,661.7M736.7,675 739.2,681.7 735.8,688.3 733.3,695 728.3,700 727.5,708.3 723.3,713.3 716.7,720 713.3,726.7 708.3,730 707.5,735 701.7,739.2 698.3,743.3 697.5,750M800,366.9 801.2,363.1 807.5,360 805.6,353.8 815,348.8 821.9,343.8 826.2,348.8 832.5,351.9 836.2,351.2 833.1,355 832.5,358.8 837.5,361.2 831.2,363.1 826.9,363.1 825,365 827.5,371.2 825,372.5 818.1,373.8 812.5,371.9 806.2,372.5 801.9,371.2 800,366.9M837.5,361.2 840,365 838.8,370 842.5,373.8 842.5,377.5 845,380 843.1,383.8 842.5,387.5 839.4,392.5 836.2,393.8 830,391.9 823.8,388.8 825.6,382.5 824.4,376.2 825,372.5M825,364.4 830.6,363.1 831.9,370.6 828.1,371.9 825,364.4M781.2,380 775,382.5 771.2,386.2 766.9,395 770,401.2M760,358.3 770,355.8 776.7,350.8M690,586.7 690,581.7" fill="none" stroke="#4D4D4D" stroke-width="1" stroke-linejoin="round"/>
<path d="M152,328 166,323 168,310 173,304 178,299 174,284 171,272 162,264.4 172,260 195,254.4 209,258 210,254 204.4,250 206,243 213,230 220,216.6 233,222 247,221 253,224 258,220.6 264,220 267,214 263.6,204 267,193 282,190 285.6,186 284.4,180 290,177 304,177 305,182 309,188 307,190 318,194 320,198 330,201 336,200 338,203 345,204 351,209 354,219 362,226 360,236 361.6,240 356,246 356,253 359,258 372,261 384,262.4 404,263 420,270 428,275 440,276.6 439.4,282 443.4,284 449,297 457,304 458,308.4 471,308 478,308.4 510,312 530,309 546,311 556,313.6 559,319 573,321 580,325 590,326.4 604,326.4 605,330.4 612,332 618,327 643,317.6 656,314.4 676,315 695,313.6 698,311 708,308 720,296 737,289 737.6,286 732,280 727.6,274 731,267 738,260.4 746,261.6 752,265 766,267 777,263 787,253.6 800,254 814,247 816,242 823,235 833,234 837,230 849,227.6 860,226.4 869,227.6 878,229 880.4,225 874,215 863,207 855,201 844,201 834.4,208 827,203 813,203.6 809,207 801.6,199 806,195 807,190 822.4,163.4 842,169.6 851,164 860,160.6 869.6,158 870.4,155 867,152 874,141 882,128 895.4,118 896,113.6 893.4,108 883,107 882.4,103.6 888,101 897,93 910,92 924,88.6 940,87 948,87 956,92 963,95.6 972,94.4 977,97 983,98 990,103 995,111 998,120 1003,126 1007,135 1012.4,145 1015,153 1018,158 1017,163 1022,168 1038,169 1046,173 1054,172.4 1062,179 1073,184 1072,190 1076,194 1074,200 1079.6,207 1090,207.6 1107,206.4 1110,202 1130,195 1143,192.4 1152.4,192 1145,197 1143.6,202 1147.6,206 1138,213 1134,226 1129,239 1123,250 1118,253 1116,262 1104,259 1095,256.4 1089,261 1079.6,265 1083,278 1084,289 1083,294 1085,296 1080,304 1069,308 1073.6,315 1066,309 1064,304 1059,305 1058,313 1049,316 1048,321 1042,323 1028,323.6 1030.4,332 1028,336.4 1012,334 1005,329 999,334 998,338 990,343 980,350 968,358 956,369 944,370 934,374 924,380 912,386 902,389.6 901.6,386.4 910,382 911,379 905,377 904,373 910,367 918,361 922,354 916,348 908,346.6 900,348 894,355 886,361 878,365 868,375 863,380 855,385 846,382 844,388 840,394 845,399 852,402 863,403 869,409 863,415 865,420 873,422.4 879,421 882,416 890,410 895,408 905,414 914,415.6 920,415 930,418 929,424 924,429 911,430 902,435 895,440 886,443 885,450 875,458 868,466 869,471 877,476 887,480 892,492 897,502 899,513 908,520 914,528 918,533 918,538 912,540 918,548 918,553 920,556 912,555 902,557 912,566 916,573 919,578 917,588 914,593 910,597 911,603 903,609 899,615 894,620 890,627 885,634 880,640 875,647 877,657 870,664 862,670 859,676 850,682 843,690 833,699 830,702 820,709 810,715 800,717 792,720 785,719 780,726 772,728 770,720 768,717 767,722 764,729 758,734 752,739 744,737.6 738,738 730,742 724,744 715,747 711,749 706,754 711,757 713,765 709,768 701,768 700,762 697,756 698,749 700,744 686,744 684,740 670,742 658,740 648,735 643,728 641,723 645,716 640,714 630,712 623,710 618,705 610,710 604,716 598,716 594,722 588,717 582,720 577,723 570,718 565,717 560,722 553,723 550.4,728 555,738 555,748 546,749 543,737 537,740 528,743 522,737 520,731 509,730 511,720 514.4,712 506,709 502,702 499,692 502,689 488,690 480,694 478,692 482,686 479,678 483,668 494,658 500,650 498,644 499.6,636 499.4,620 494,618 490,608 486,604 480,599 475,606 474,612 470,615 458,608 448,604 440,607 430,615 420,619 412,628 406,631.6 392,631.6 381,632 380,623 373,619 372,613 367,609 363,611 356,610 348,606 340,605 334,609 328,618 326,625 322,620 322,610 316,609 304,612 292,612.4 282,607.6 275,607 272,611 266,604 257,603 255,598 248,595 240,592 239,585 235,582 228,585 222,577 212,572 203,566 200,561 193,560 189,561 185,568 183,563 176,560 166,556 160,551 153,548 146,547 141,538 141,530 137,524 135,517 141,514 141,518 146,520.6 151,515 149,504 142,495 140,486 146,480 140,477 133,474 129.6,466 129,457 118,456.4 107,453 102,449 93,447 90,440 90,434 81,427 66,425 64.6,421.6 76,419.6 76,416 71.6,408 70.4,395 58,393.6 52.4,392 47.6,377.6 53.6,374 56,362.4 71,355 84,351.6 87,358 102,356 109,343 122,344 131,337ZM909,664 913,665 918,671 915.6,680 911,696 906,712 900,720 898,733 895.6,734.4 893,726 886,720 882.4,708 884,698 890,686 896,676 902,669ZM688,776 696,772 706,772 716,769.6 721,774 720.6,780 715,788 712,798 703,805 695,811 688,807 679,804.4 677,794 678,786 684,782ZM772.001,1026.4 778.601,1020.4 785.501,1019.2 781.001,1025.2 776.501,1027.6Z" fill="none" stroke="#4D4D4D" stroke-width="1" stroke-linejoin="round"/>
<path d="M932,679.4 926.4,702.4M916.4,738.4 902.4,756.4M882.4,792.1 872.5,814M865,853 865,875.5M863.5,936.4 860.5,949 855,959.5M814.6,1018 801.4,1035M734.5,1111.6 753.4,1105.6M670,1037.5 669.4,1048 671.8,1059M708.4,931.6 707.5,943 703.6,952M689.5,850 696.4,860.5 699.4,872.5" fill="none" stroke="#4D4D4D" stroke-width="1.2"/>
<g fill="#4D4D4D"><rect x="756" y="782" width="1" height="2"/><rect x="770" y="789" width="2" height="1"/><rect x="822" y="847" width="2" height="1"/><rect x="841" y="871" width="1" height="2"/><rect x="798" y="896" width="2" height="2"/><rect x="824" y="760" width="2" height="1"/><rect x="748" y="986" width="1" height="1"/><rect x="702" y="1019" width="1" height="2"/><rect x="711" y="1016" width="2" height="1"/><rect x="731" y="1024" width="2" height="1"/><rect x="729" y="1006" width="2" height="1"/><rect x="744" y="1000" width="2" height="1"/><rect x="752" y="1000" width="1" height="1"/><rect x="740" y="1101" width="2" height="2"/><rect x="743" y="1100" width="2" height="1"/><rect x="749" y="1071" width="1" height="2"/><rect x="755" y="1078" width="1" height="2"/><rect x="748" y="1061" width="1" height="2"/><rect x="748" y="1066" width="1" height="1"/><rect x="759" y="1052" width="2" height="1"/><rect x="766" y="1039" width="2" height="1"/><rect x="786" y="947" width="1" height="1"/><rect x="823" y="947" width="1" height="1"/><rect x="729" y="832" width="1" height="2"/><rect x="742" y="834" width="1" height="2"/><rect x="744" y="838" width="1" height="2"/><rect x="730" y="844" width="1" height="2"/><rect x="733" y="843" width="1" height="2"/><rect x="730" y="850" width="2" height="1"/><rect x="736" y="848" width="1" height="1"/><rect x="739" y="847" width="1" height="2"/><rect x="746" y="848" width="2" height="1"/><rect x="749" y="846" width="1" height="2"/><rect x="734" y="853" width="2" height="1"/><rect x="748" y="853" width="1" height="2"/><rect x="741" y="860" width="2" height="1"/><rect x="773" y="856" width="2" height="1"/><rect x="777" y="854" width="2" height="2"/><rect x="782" y="853" width="2" height="1"/><rect x="787" y="851" width="2" height="2"/><rect x="790" y="854" width="1" height="1"/><rect x="783" y="862" width="2" height="1"/><rect x="772" y="864" width="1" height="2"/><rect x="775" y="958" width="1" height="1"/><rect x="784" y="959" width="1" height="2"/><rect x="787" y="955" width="1" height="1"/><rect x="791" y="956" width="1" height="1"/><rect x="783" y="961" width="1" height="2"/><rect x="767" y="972" width="2" height="1"/><rect x="771" y="975" width="1" height="1"/><rect x="779" y="971" width="1" height="2"/><rect x="786" y="969" width="2" height="2"/><rect x="785" y="978" width="2" height="1"/><rect x="786" y="982" width="2" height="1"/><rect x="797" y="973" width="1" height="2"/><rect x="802" y="979" width="1" height="1"/><rect x="806" y="967" width="1" height="2"/><rect x="810" y="974" width="2" height="2"/><rect x="808" y="982" width="1" height="2"/><rect x="812" y="985" width="1" height="1"/><rect x="819" y="981" width="1" height="2"/><rect x="800" y="989" width="2" height="2"/><rect x="809" y="992" width="1" height="1"/><rect x="815" y="998" width="2" height="1"/><rect x="820" y="995" width="1" height="1"/><rect x="822" y="997" width="2" height="1"/><rect x="818" y="969" width="2" height="2"/><rect x="821" y="967" width="2" height="1"/><rect x="824" y="966" width="2" height="1"/><rect x="832" y="956" width="1" height="1"/><rect x="834" y="961" width="2" height="1"/><rect x="840" y="956" width="1" height="2"/><rect x="842" y="960" width="2" height="2"/><rect x="833" y="969" width="1" height="2"/><rect x="834" y="975" width="2" height="1"/><rect x="776" y="989" width="2" height="2"/><rect x="768" y="994" width="2" height="1"/><rect x="768" y="998" width="1" height="2"/><rect x="772" y="1000" width="1" height="2"/><rect x="777" y="1001" width="1" height="2"/><rect x="785" y="999" width="1" height="2"/><rect x="795" y="1009" width="2" height="2"/><rect x="797" y="1007" width="2" height="1"/><rect x="801" y="1007" width="2" height="1"/><rect x="761" y="1014" width="2" height="1"/><rect x="759" y="1016" width="2" height="1"/><rect x="754" y="1008" width="1" height="2"/><rect x="754" y="1020" width="1" height="2"/><rect x="737" y="1016" width="1" height="2"/><rect x="733" y="1020" width="1" height="2"/><rect x="730" y="1026" width="2" height="1"/><rect x="728" y="1006" width="2" height="2"/><rect x="732" y="1004" width="2" height="2"/><rect x="771" y="1026" width="2" height="1"/><rect x="770" y="1030" width="2" height="1"/><rect x="790" y="1024" width="1" height="1"/><rect x="791" y="1028" width="1" height="2"/><rect x="788" y="1033" width="1" height="1"/><rect x="782" y="1015" width="2" height="1"/><rect x="787" y="1015" width="2" height="2"/><rect x="692" y="1031" width="2" height="1"/><rect x="695" y="1029" width="1" height="1"/><rect x="699" y="1027" width="1" height="2"/><rect x="925" y="554" width="2" height="1"/><rect x="930" y="553" width="2" height="2"/><rect x="948" y="652" width="1" height="1"/><rect x="943" y="655" width="1" height="1"/><rect x="963" y="652" width="2" height="1"/><rect x="919" y="660" width="2" height="1"/><rect x="873" y="699" width="2" height="1"/><rect x="871" y="706" width="2" height="1"/><rect x="908" y="718" width="2" height="1"/><rect x="909" y="730" width="1" height="1"/><rect x="810" y="751" width="1" height="2"/><rect x="824" y="758" width="2" height="1"/><rect x="915" y="599" width="2" height="2"/><rect x="901" y="614" width="2" height="1"/><rect x="903" y="616" width="2" height="2"/><rect x="880" y="646" width="2" height="1"/><rect x="918" y="562" width="1" height="2"/><rect x="919" y="566" width="2" height="1"/><rect x="922" y="564" width="2" height="2"/><rect x="924" y="568" width="2" height="1"/><rect x="920" y="570" width="2" height="1"/><rect x="917" y="570" width="2" height="1"/><rect x="921" y="572" width="2" height="1"/><rect x="916" y="568" width="2" height="1"/><rect x="923" y="562" width="2" height="1"/><rect x="920" y="573" width="1" height="2"/><rect x="925" y="572" width="1" height="1"/><rect x="915" y="562" width="2" height="2"/><rect x="917" y="564" width="2" height="1"/><rect x="920" y="562" width="2" height="2"/><rect x="923" y="564" width="1" height="2"/><rect x="917" y="566" width="1" height="2"/><rect x="919" y="569" width="2" height="1"/><rect x="922" y="567" width="2" height="2"/><rect x="924" y="566" width="2" height="2"/><rect x="918" y="571" width="2" height="2"/><rect x="921" y="572" width="1" height="2"/><rect x="924" y="570" width="1" height="1"/><rect x="916" y="570" width="1" height="1"/><rect x="920" y="566" width="1" height="1"/><rect x="925" y="569" width="2" height="1"/><rect x="923" y="574" width="1" height="1"/><rect x="926" y="554" width="1" height="2"/><rect x="931" y="554" width="2" height="1"/><rect x="875" y="635" width="1" height="2"/><rect x="877" y="636" width="2" height="1"/><rect x="880" y="635" width="2" height="1"/><rect x="882" y="637" width="2" height="1"/><rect x="879" y="638" width="2" height="1"/><rect x="876" y="637" width="2" height="2"/><rect x="882" y="636" width="1" height="1"/><rect x="871" y="658" width="1" height="2"/><rect x="874" y="659" width="1" height="2"/><rect x="876" y="658" width="1" height="2"/><rect x="878" y="660" width="1" height="2"/><rect x="872" y="662" width="2" height="2"/><rect x="875" y="661" width="1" height="1"/><rect x="866" y="663" width="2" height="2"/><rect x="865" y="666" width="2" height="1"/><rect x="863" y="668" width="2" height="2"/><rect x="847" y="681" width="2" height="1"/><rect x="850" y="682" width="2" height="2"/><rect x="852" y="680" width="2" height="1"/><rect x="854" y="682" width="1" height="1"/><rect x="849" y="683" width="2" height="1"/><rect x="826" y="701" width="2" height="2"/><rect x="829" y="701" width="2" height="1"/><rect x="901" y="613" width="1" height="1"/><rect x="903" y="616" width="2" height="1"/><rect x="914" y="599" width="2" height="1"/><rect x="880" y="645" width="1" height="2"/></g>
</g>
<text class="title" x="48.4" y="107.3" xml:space="preserve">父系：<tspan class="la"> O-MF13766 (</tspan>含下游<tspan class="la">)</tspan></text>
<text class="lgt" x="54" y="787">相对占比</text>
<rect x="58" y="805.00" width="33" height="34.05" fill="#FFFFE5"/><rect x="58" y="838.65" width="33" height="34.05" fill="#FFF8C1"/><rect x="58" y="872.30" width="33" height="34.05" fill="#FEE79B"/><rect x="58" y="905.95" width="33" height="34.05" fill="#FECE65"/><rect x="58" y="939.60" width="33" height="34.05" fill="#FEAC3A"/><rect x="58" y="973.25" width="33" height="34.05" fill="#F68720"/><rect x="58" y="1006.90" width="33" height="34.05" fill="#E1640E"/><rect x="58" y="1040.55" width="33" height="34.05" fill="#C14702"/><rect x="58" y="1074.20" width="33" height="34.05" fill="#933204"/><rect x="58" y="1107.85" width="33" height="34.05" fill="#662506"/><text class="lt la" x="99.9" y="833.90">0.035% - 0.107%</text><text class="lt la" x="99.9" y="867.55">0.107% - 0.179%</text><text class="lt la" x="99.9" y="901.20">0.179% - 0.248%</text><text class="lt la" x="99.9" y="934.85">0.248% - 0.311%</text><text class="lt la" x="99.9" y="968.50">0.311% - 0.408%</text><text class="lt la" x="99.9" y="1002.15">0.408% - 0.507%</text><text class="lt la" x="99.9" y="1035.80">0.507% - 0.714%</text><text class="lt la" x="99.9" y="1069.45">0.714% - 0.922%</text><text class="lt la" x="99.9" y="1103.10">0.922% - 1.143%</text><text class="lt la" x="99.9" y="1136.75">1.143% - 1.852%</text>
<text class="credit" x="945" y="1136.6">作者<tspan class="la">:O1a</tspan>溯源群</text>
</svg>
</body></html>
